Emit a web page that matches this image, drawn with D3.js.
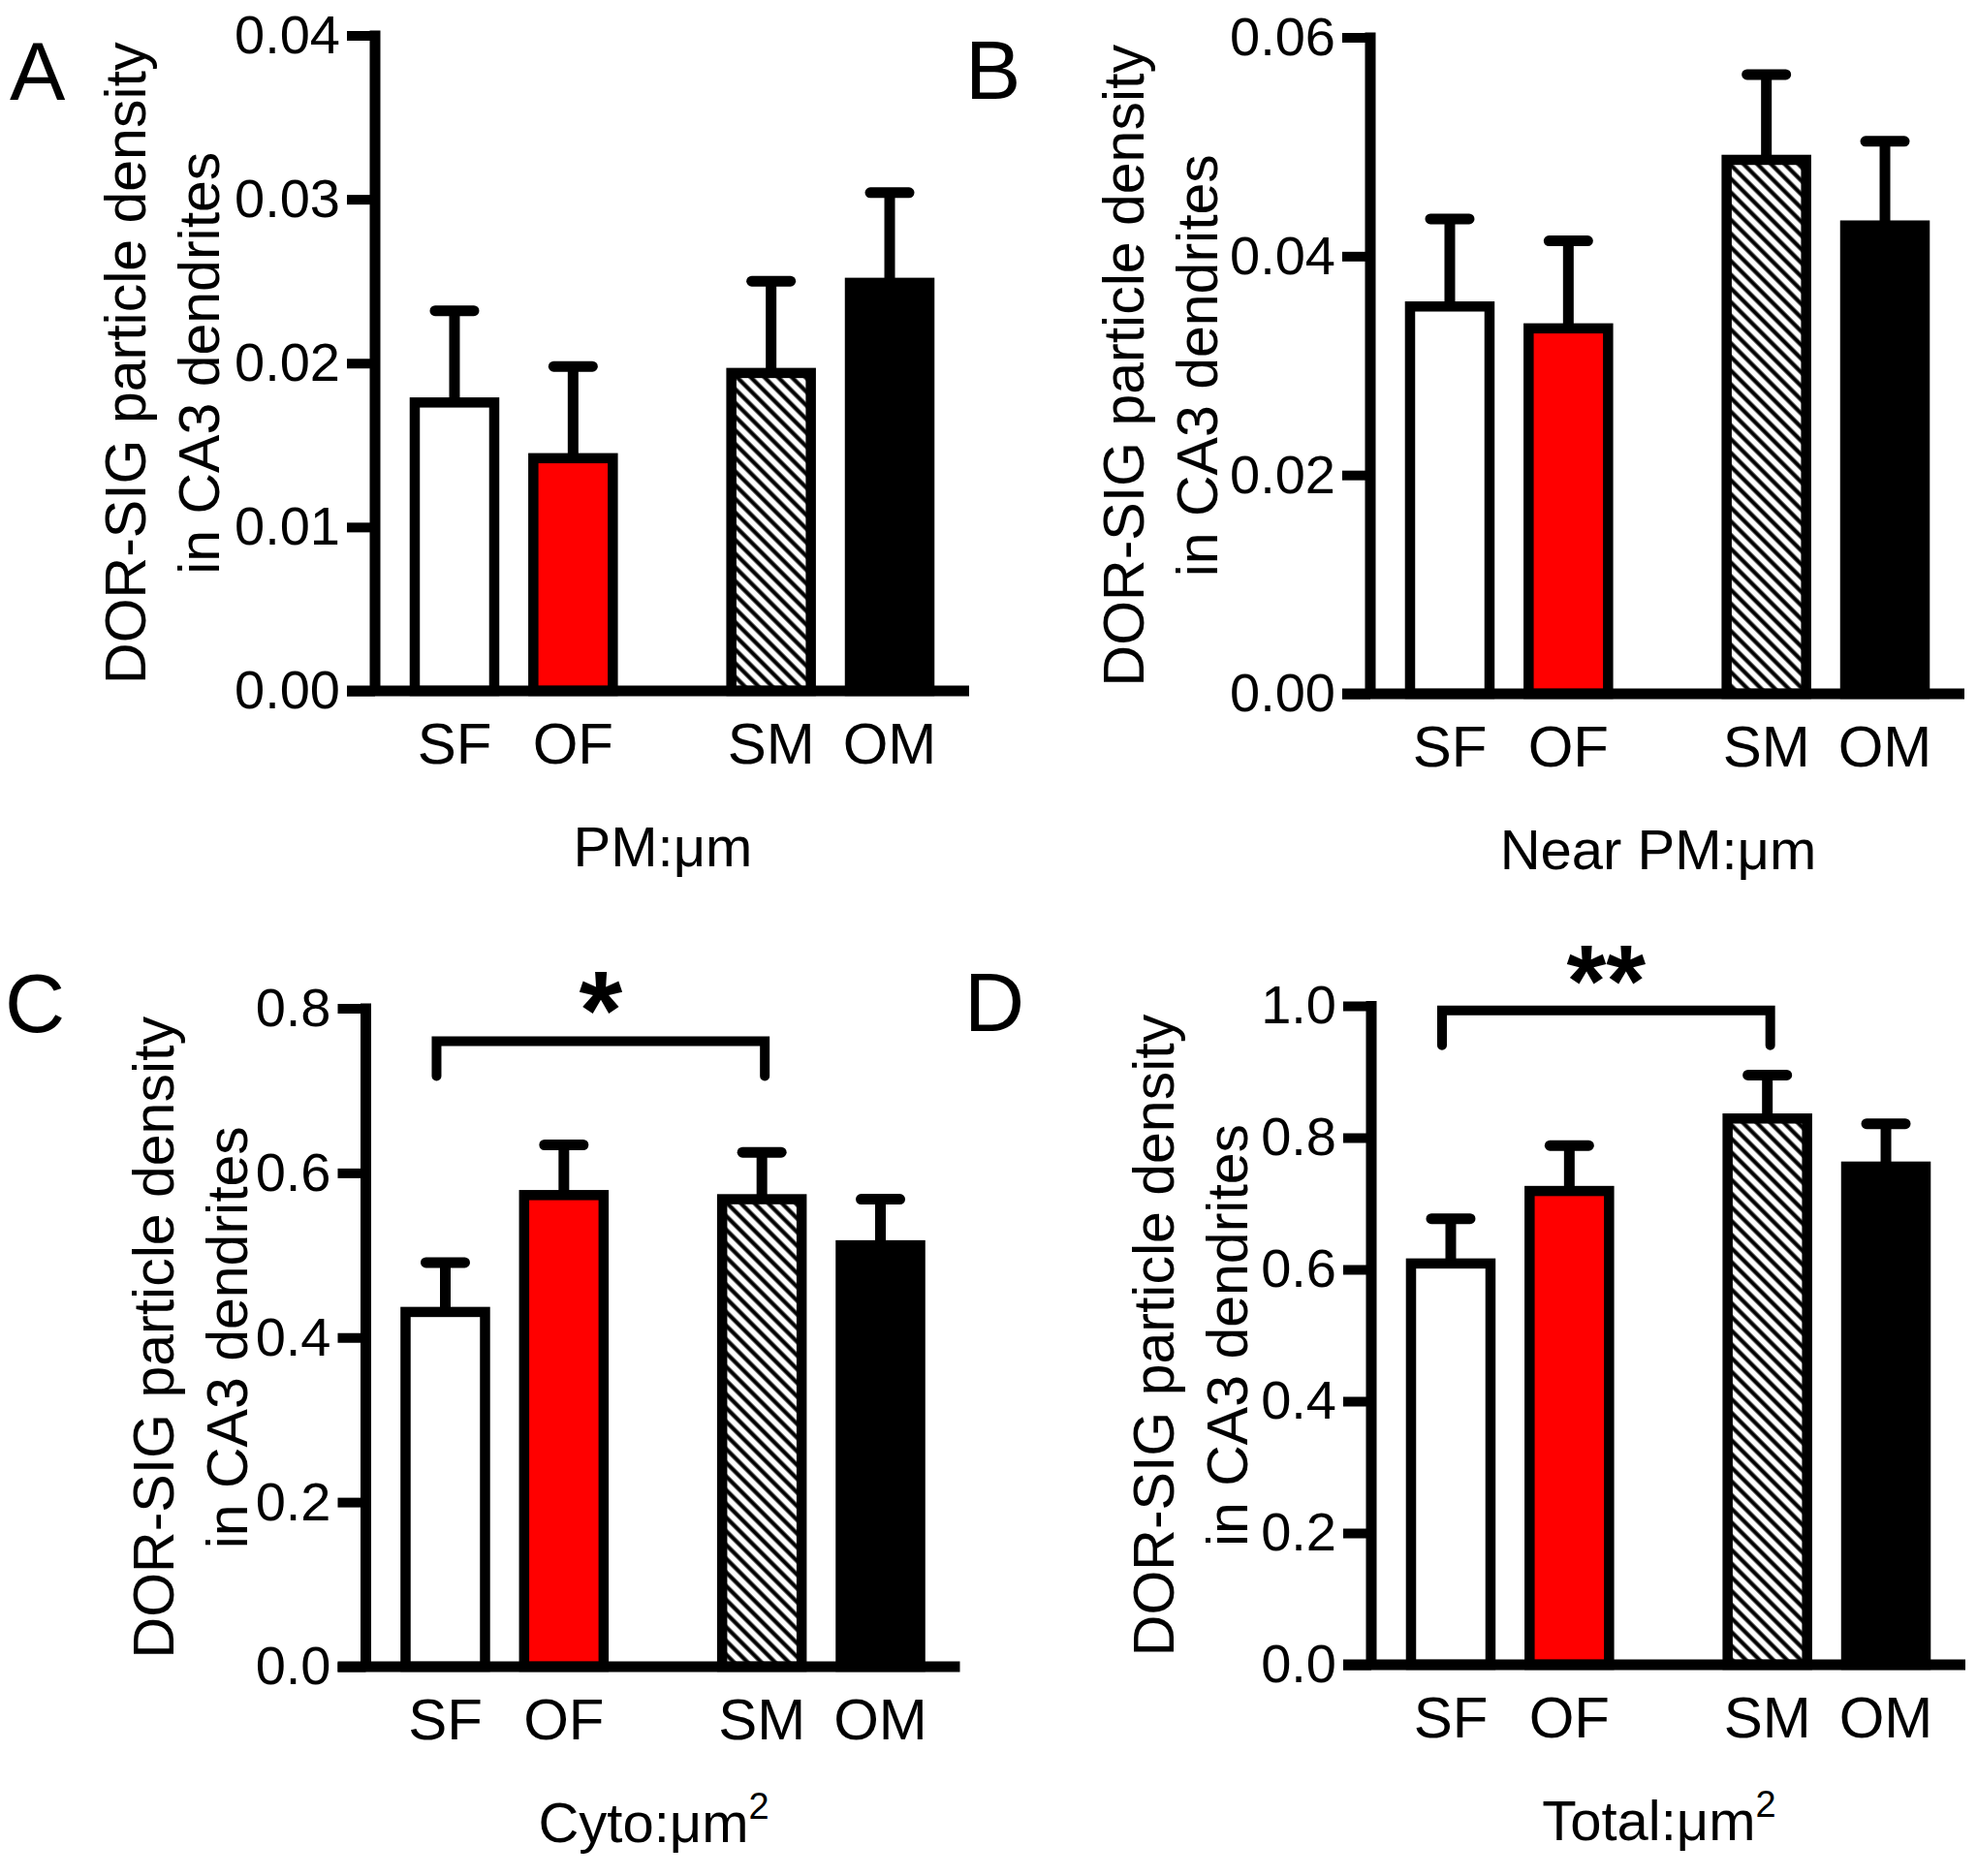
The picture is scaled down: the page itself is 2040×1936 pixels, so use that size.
<!DOCTYPE html>
<html>
<head>
<meta charset="utf-8">
<script src="https://cdn.jsdelivr.net/npm/d3@7"></script>
<style>
  body { margin: 0; background: #fff; }
  text { font-family: "Liberation Sans", Arial, Helvetica, sans-serif; fill: #000; }
</style>
</head>
<body>
<div id="chart"></div>
<script>
// groups and values
const groups = ['SF', 'OF', 'SM', 'OM'];

const pmMean = [0.0176, 0.0142, 0.0194, 0.0249];
const pmSem = [0.0056, 0.0056, 0.0056, 0.0055];
const pmTicks = [0, 0.01, 0.02, 0.03, 0.04];

const nearMean = [0.0354, 0.0334, 0.0488, 0.0428];
const nearSem = [0.0080, 0.0080, 0.0078, 0.0077];
const nearTicks = [0, 0.02, 0.04, 0.06];

const cytoMean = [0.431, 0.573, 0.568, 0.512];
const cytoSem = [0.060, 0.061, 0.057, 0.056];
const cytoTicks = [0, 0.2, 0.4, 0.6, 0.8];

const totalMean = [0.609, 0.719, 0.829, 0.756];
const totalSem = [0.068, 0.069, 0.066, 0.065];
const totalTicks = [0, 0.2, 0.4, 0.6, 0.8, 1.0];

const yTitle = ['DOR-SIG particle density', 'in CA3 dendrites'];

const panels = [
  {letter: 'A', mean: pmMean, sem: pmSem, ticks: pmTicks, fmt: '.2f', xTitle: 'PM:μm', sup: null, sig: null},
  {letter: 'B', mean: nearMean, sem: nearSem, ticks: nearTicks, fmt: '.2f', xTitle: 'Near PM:μm', sup: null, sig: null},
  {letter: 'C', mean: cytoMean, sem: cytoSem, ticks: cytoTicks, fmt: '.1f', xTitle: 'Cyto:μm', sup: '2',
   sig: {from: 'SF', to: 'SM', level: 0.76, label: '*'}},
  {letter: 'D', mean: totalMean, sem: totalSem, ticks: totalTicks, fmt: '.1f', xTitle: 'Total:μm', sup: '2',
   sig: {from: 'SF', to: 'SM', level: 0.993, label: '**'}}
];

// where each panel sits on the page
const layout = [
  {x0: 387, yTop: 36.5, yBase: 713, titleX: 226, letterX: 10, letterY: 103, starSize: 115, starDy: 12},
  {x0: 1414, yTop: 38.5, yBase: 716, titleX: 1256, letterX: 996, letterY: 102, starSize: 115, starDy: 12},
  {x0: 377.5, yTop: 1040.5, yBase: 1720, titleX: 255, letterX: 5, letterY: 1065, starSize: 115, starDy: 8},
  {x0: 1415, yTop: 1038, yBase: 1718, titleX: 1287, letterX: 995, letterY: 1064, starSize: 105, starDy: 6}
];

const W = 2040, H = 1936;
const plotW = 613;
const groupGap = 0.67;
const slot = [0, 1, 2 + groupGap, 3 + groupGap];
const barW = 82;
const lw = 10.5;

const svg = d3.select('#chart').append('svg')
  .attr('width', W)
  .attr('height', H);

svg.append('rect').attr('width', W).attr('height', H).attr('fill', '#fff');

// hatch for SM bars
const hp = 10;
const defs = svg.append('defs');
const pat = defs.append('pattern')
  .attr('id', 'hatch')
  .attr('patternUnits', 'userSpaceOnUse')
  .attr('width', hp)
  .attr('height', hp)
  .attr('patternTransform', 'rotate(-45)');
pat.append('rect').attr('width', hp).attr('height', hp).attr('fill', '#fff');
pat.append('line')
  .attr('x1', 2.5).attr('y1', 0).attr('x2', 2.5).attr('y2', hp)
  .attr('stroke', '#000').attr('stroke-width', 4.2);

const fills = ['#fff', '#ff0000', 'url(#hatch)', '#000'];

panels.forEach(function(p, k) {
  const L = layout[k];
  const g = svg.append('g');

  const x = d3.scaleLinear()
    .domain([-groupGap, slot[3] + groupGap])
    .range([L.x0, L.x0 + plotW]);
  const xc = function(name) { return x(slot[groups.indexOf(name)]); };

  const y = d3.scaleLinear()
    .domain([0, d3.max(p.ticks)])
    .range([L.yBase, L.yTop]);

  // bars
  g.selectAll('.bar')
    .data(groups)
    .enter()
    .append('rect')
    .attr('class', 'bar')
    .attr('x', function(d) { return xc(d) - barW / 2; })
    .attr('y', function(d, i) { return y(p.mean[i]); })
    .attr('width', barW)
    .attr('height', function(d, i) { return L.yBase - y(p.mean[i]); })
    .attr('fill', function(d, i) { return fills[i]; })
    .attr('stroke', '#000')
    .attr('stroke-width', lw);

  // error bars (upper only)
  g.selectAll('.stem')
    .data(groups)
    .enter()
    .append('line')
    .attr('x1', function(d) { return xc(d); })
    .attr('x2', function(d) { return xc(d); })
    .attr('y1', function(d, i) { return y(p.mean[i]); })
    .attr('y2', function(d, i) { return y(p.mean[i] + p.sem[i]); })
    .attr('stroke', '#000')
    .attr('stroke-width', 11);

  g.selectAll('.cap')
    .data(groups)
    .enter()
    .append('line')
    .attr('x1', function(d) { return xc(d) - 20; })
    .attr('x2', function(d) { return xc(d) + 20; })
    .attr('y1', function(d, i) { return y(p.mean[i] + p.sem[i]); })
    .attr('y2', function(d, i) { return y(p.mean[i] + p.sem[i]); })
    .attr('stroke', '#000')
    .attr('stroke-width', 11)
    .attr('stroke-linecap', 'round');

  // y axis
  const axis = d3.axisLeft(y)
    .tickValues(p.ticks)
    .tickFormat(d3.format(p.fmt))
    .tickSize(29)
    .tickSizeOuter(0)
    .tickPadding(7);

  const ax = g.append('g')
    .attr('transform', 'translate(' + L.x0 + ',0)')
    .call(axis);
  ax.select('.domain').remove();
  ax.selectAll('.tick line').attr('stroke', '#000').attr('stroke-width', 10);
  ax.selectAll('.tick text')
    .attr('font-size', 56)
    .attr('fill', '#000');

  g.append('line')
    .attr('x1', L.x0).attr('x2', L.x0)
    .attr('y1', L.yTop - 5).attr('y2', L.yBase)
    .attr('stroke', '#000').attr('stroke-width', 11);

  // x axis line at zero
  g.append('line')
    .attr('x1', L.x0 - 29).attr('x2', L.x0 + plotW)
    .attr('y1', L.yBase).attr('y2', L.yBase)
    .attr('stroke', '#000').attr('stroke-width', 11);

  // category labels
  g.selectAll('.cat')
    .data(groups)
    .enter()
    .append('text')
    .attr('x', function(d) { return xc(d); })
    .attr('y', L.yBase + 75)
    .attr('text-anchor', 'middle')
    .attr('font-size', 60)
    .text(function(d) { return d; });

  // x title
  const xt = g.append('text')
    .attr('x', L.x0 + 297)
    .attr('y', L.yBase + 181)
    .attr('text-anchor', 'middle')
    .attr('font-size', 58)
    .text(p.xTitle);
  if (p.sup) {
    xt.append('tspan')
      .attr('font-size', 38)
      .attr('dy', -24)
      .text(p.sup);
  }

  // y title, two lines
  const yMid = (L.yTop + L.yBase) / 2;
  yTitle.forEach(function(t, j) {
    g.append('text')
      .attr('transform', 'translate(' + (L.titleX - (1 - j) * 76) + ',' + yMid + ') rotate(-90)')
      .attr('text-anchor', 'middle')
      .attr('font-size', 59)
      .text(t);
  });

  // panel letter
  g.append('text')
    .attr('x', L.letterX)
    .attr('y', L.letterY)
    .attr('font-size', 86)
    .text(p.letter);

  // significance bracket
  if (p.sig) {
    const x1 = xc(p.sig.from) - 9;
    const x2 = xc(p.sig.to) + 3;
    const yb = y(p.sig.level);
    g.append('path')
      .attr('d', 'M' + x1 + ',' + (yb + 36) + 'V' + yb + 'H' + x2 + 'V' + (yb + 36))
      .attr('fill', 'none')
      .attr('stroke', '#000')
      .attr('stroke-width', 10)
      .attr('stroke-linecap', 'round')
      .attr('stroke-linejoin', 'miter');
    g.append('text')
      .attr('x', (x1 + x2) / 2)
      .attr('y', yb + L.starDy)
      .attr('text-anchor', 'middle')
      .attr('font-size', L.starSize)
      .attr('font-weight', 'bold')
      .text(p.sig.label);
  }
});
</script>
</body>
</html>
